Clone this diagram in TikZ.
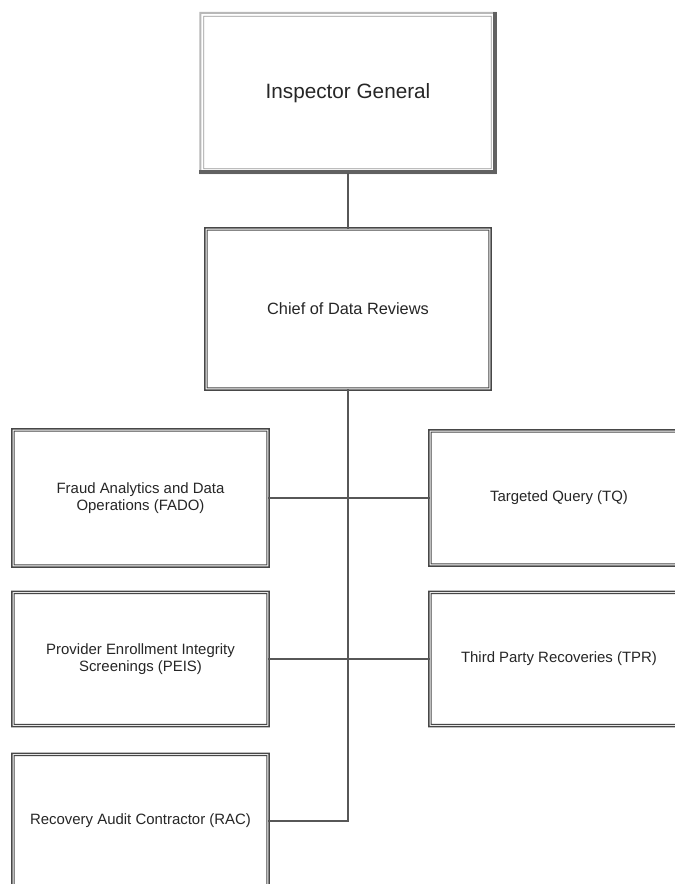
\documentclass[tikz,border=0pt]{standalone}
\usepackage{fontspec}
\setmainfont{Liberation Sans}
% double frame drawn as filled rings round a named node
\newcommand\dblframe[1]{%
  \fill[black!72, even odd rule]
    ([shift={(-1.6bp,1.6bp)}]#1.north west) rectangle ([shift={(1.6bp,-1.6bp)}]#1.south east)
    ([shift={(-0.2bp,0.2bp)}]#1.north west) rectangle ([shift={(0.2bp,-0.2bp)}]#1.south east);
  \fill[black!72, even odd rule]
    ([shift={(0.9bp,-0.9bp)}]#1.north west) rectangle ([shift={(-0.9bp,0.9bp)}]#1.south east)
    ([shift={(1.9bp,-1.9bp)}]#1.north west) rectangle ([shift={(-1.9bp,1.9bp)}]#1.south east);
}
\begin{document}
\begin{tikzpicture}[x=1bp,y=-1bp,
  unitbox/.style={fill=white, inner sep=0pt, align=center,
    text=black!85, font=\fontsize{15}{17}\selectfont},
  wide/.style={minimum width=258bp},
  narrow/.style={minimum width=255bp},
  topbox/.style={fill=white, inner sep=0pt, minimum width=295bp, minimum height=160bp,
    text=black!85, font=\fontsize{20.8}{24}\selectfont},
  link/.style={draw=black!66, line width=2bp}]

\clip (0,0) rectangle (675,884);
\fill[white] (0,0) rectangle (675,884);

% top office with a bevelled frame
\node[topbox] (ig) at (348,93) {Inspector General};
\fill[black!28, even odd rule]
  ([shift={(-1bp,1bp)}]ig.north west) rectangle ([shift={(1bp,-1bp)}]ig.south east)
  ([shift={(1bp,-1bp)}]ig.north west) rectangle ([shift={(-1bp,1bp)}]ig.south east);
\fill[black!62]
  ([shift={(-3bp,1bp)}]ig.north east) rectangle ([shift={(1bp,-1bp)}]ig.south east);
\fill[black!62]
  ([shift={(-1bp,3bp)}]ig.south west) rectangle ([shift={(1bp,-1bp)}]ig.south east);
\fill[black!40, even odd rule]
  ([shift={(3bp,-3bp)}]ig.north west) rectangle ([shift={(-4bp,4bp)}]ig.south east)
  ([shift={(3.8bp,-3.8bp)}]ig.north west) rectangle ([shift={(-4.8bp,4.8bp)}]ig.south east);

\node[unitbox, minimum width=284bp, minimum height=160bp,
  font=\fontsize{16.4}{19}\selectfont] (chief) at (348,309) {Chief of Data Reviews};

\node[unitbox, narrow, minimum height=136bp] (fado) at (140.5,498)
  {Fraud Analytics and Data\\Operations (FADO)};
\node[unitbox, narrow, minimum height=133bp] (peis) at (140.5,659)
  {Provider Enrollment Integrity\\Screenings (PEIS)};
\node[unitbox, narrow, minimum height=133bp] (rac) at (140.5,821)
  {Recovery Audit Contractor (RAC)};
\node[unitbox, wide, minimum height=134bp] (tq) at (559,498)
  {Targeted Query (TQ)};
\node[unitbox, wide, minimum height=133bp] (tpr) at (559,659)
  {Third Party Recoveries (TPR)};

\foreach \n in {chief,fado,peis,rac,tq,tpr} {\dblframe{\n}}

% reporting lines
\draw[link] (ig.south) -- (chief.north);
\draw[link] (chief.south) -- (chief.south |- rac.east) -- (rac.east);
\draw[link] (fado.east) -- (tq.west);
\draw[link] (peis.east) -- (tpr.west);
\end{tikzpicture}
\end{document}
